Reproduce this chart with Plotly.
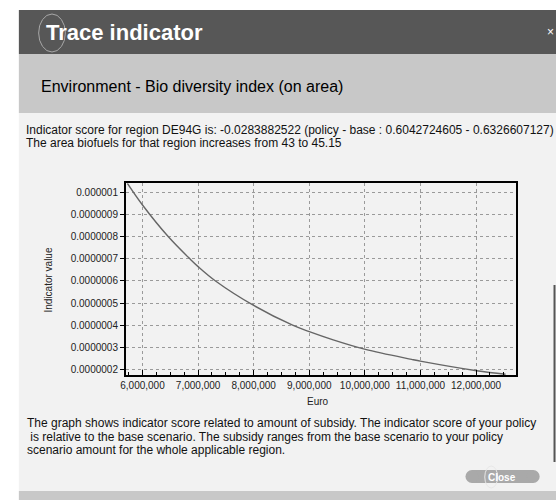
import plotly.graph_objects as go

# ---- data ----
euro = [5728000, 6000000, 6470000, 6860000, 7000000, 7320000, 8000000, 8700000, 9000000,
        9430000, 10010000, 10840000, 11020000, 12010000, 12530000]
indicator = [1.039e-6, 0.9414e-6, 0.797e-6, 0.697e-6, 0.664e-6, 0.598e-6, 0.489e-6, 0.400e-6, 0.371e-6,
             0.334e-6, 0.291e-6, 0.246e-6, 0.237e-6, 0.195e-6, 0.179e-6]
y_tickvals = [2e-7, 3e-7, 4e-7, 5e-7, 6e-7, 7e-7, 8e-7, 9e-7, 1e-6]
y_ticktext = ["0.0000002", "0.0000003", "0.0000004", "0.0000005", "0.0000006",
              "0.0000007", "0.0000008", "0.0000009", "0.000001"]
x_tickvals = [6e6, 7e6, 8e6, 9e6, 10e6, 11e6, 12e6]
x_ticktext = ["6,000,000", "7,000,000", "8,000,000", "9,000,000", "10,000,000", "11,000,000", "12,000,000"]

title_text = "Trace indicator"
subtitle_text = "Environment - Bio diversity index (on area)"
info_lines = ["Indicator score for region DE94G is: -0.0283882522 (policy - base : 0.6042724605 - 0.6326607127)",
              "The area biofuels for that region increases from 43 to 45.15"]
note_lines = ["The graph shows indicator score related to amount of subsidy. The indicator score of your policy",
              " is relative to the base scenario. The subsidy ranges from the base scenario to your policy",
              "scenario amount for the whole applicable region."]

W, H = 556, 500
def px(x):
    return x / W
def py(y):
    return 1 - y / H

FONT = "Liberation Sans, Arial, sans-serif"

fig = go.Figure()
fig.add_trace(go.Scatter(x=euro, y=indicator, mode="lines",
                         line=dict(color="#666666", width=1.4, shape="spline", smoothing=1.0),
                         hoverinfo="skip", showlegend=False))

shapes = []
shapes.append(dict(type="rect", xref="paper", yref="paper", x0=px(13), x1=px(W), y0=py(113), y1=py(491),
                   fillcolor="#f2f2f2", line=dict(width=0), layer="below"))
shapes.append(dict(type="rect", xref="paper", yref="paper", x0=px(13), x1=px(W), y0=py(10), y1=py(54),
                   fillcolor="#575757", line=dict(width=0), layer="below"))
shapes.append(dict(type="rect", xref="paper", yref="paper", x0=px(13), x1=px(W), y0=py(54), y1=py(113),
                   fillcolor="#c8c8c8", line=dict(width=0), layer="below"))
shapes.append(dict(type="rect", xref="paper", yref="paper", x0=px(13), x1=px(W), y0=py(491), y1=py(500),
                   fillcolor="#c8c8c8", line=dict(width=0), layer="below"))
shapes.append(dict(type="circle", xref="paper", yref="paper", x0=px(33), x1=px(60), y0=py(14), y1=py(52),
                   line=dict(color="#a8a8a8", width=1), layer="above"))
shapes.append(dict(type="line", xref="paper", yref="paper", x0=px(554.5), x1=px(554.5), y0=py(285), y1=py(462),
                   line=dict(color="#555555", width=2), layer="below"))
shapes.append(dict(type="rect", xref="paper", yref="paper", x0=px(471), x1=px(533), y0=py(470), y1=py(483),
                   fillcolor="#a9a9a9", line=dict(width=0), layer="below"))
shapes.append(dict(type="circle", xref="paper", yref="paper", x0=px(464.5), x1=px(477.5), y0=py(470), y1=py(483),
                   fillcolor="#a9a9a9", line=dict(width=0), layer="below"))
shapes.append(dict(type="circle", xref="paper", yref="paper", x0=px(526.5), x1=px(539.5), y0=py(470), y1=py(483),
                   fillcolor="#a9a9a9", line=dict(width=0), layer="below"))
shapes.append(dict(type="circle", xref="paper", yref="paper", x0=px(484), x1=px(497), y0=py(466), y1=py(488),
                   line=dict(color="#e8e8e8", width=1), layer="above"))

annotations = []
def txt(x, y, s, size, color="#000000", bold=False, xanchor="left"):
    annotations.append(dict(xref="paper", yref="paper", x=px(x), y=py(y), text=("<b>%s</b>" % s) if bold else s,
                            showarrow=False, xanchor=xanchor, yanchor="middle",
                            font=dict(family=FONT, size=size, color=color)))

txt(38, 32, title_text, 22, "#ffffff", bold=True)
txt(550, 32, "×", 12, "#ffffff", xanchor="center")
txt(33, 87, subtitle_text, 16)
txt(18, 130, info_lines[0], 12, "#111111")
txt(18, 143, info_lines[1], 12, "#111111")
txt(19, 423, note_lines[0], 12, "#111111")
txt(19, 437, note_lines[1], 12, "#111111")
txt(19, 450, note_lines[2], 12, "#111111")
txt(501, 477, "Close", 10, "#ffffff", bold=True, xanchor="center")
txt(315, 401, "Euro", 10, "#222222", xanchor="center")
annotations.append(dict(xref="paper", yref="paper", x=px(42), y=py(280), text="Indicator value",
                        showarrow=False, textangle=-90, xanchor="center", yanchor="middle",
                        font=dict(family=FONT, size=10, color="#222222")))

fig.update_layout(
    width=W, height=H,
    margin=dict(l=0, r=0, t=0, b=0),
    paper_bgcolor="#ffffff",
    plot_bgcolor="rgba(0,0,0,0)",
    shapes=shapes,
    annotations=annotations,
    showlegend=False,
    font=dict(family=FONT, size=10, color="#222222"),
    xaxis=dict(domain=[px(121.3), px(516)], range=[5.703e6, 12.726e6],
               tickvals=x_tickvals, ticktext=x_ticktext, ticks="inside", ticklen=5,
               tickcolor="#000000", showline=True, linecolor="#000000", linewidth=2, mirror=True,
               showgrid=True, gridcolor="#9a9a9a", griddash="3px,3px", gridwidth=1, zeroline=False,
               minor=dict(dtick=250000, tick0=0, ticks="inside", ticklen=3, tickcolor="#000000", showgrid=False),
               tickfont=dict(family=FONT, size=10, color="#222222"), fixedrange=True),
    yaxis=dict(domain=[py(375), py(183.3)], range=[1.757e-7, 1.0392e-6],
               tickvals=y_tickvals, ticktext=y_ticktext, ticks="outside", ticklen=4,
               tickcolor="#000000", showline=True, linecolor="#000000", linewidth=2, mirror=True,
               showgrid=True, gridcolor="#9a9a9a", griddash="3px,3px", gridwidth=1, zeroline=False,
               tickfont=dict(family=FONT, size=10, color="#222222"), fixedrange=True),
)

fig.write_html("out.html", config={"displayModeBar": False},
               post_script="document.body.style.margin='0px';document.body.style.overflow='hidden';")
